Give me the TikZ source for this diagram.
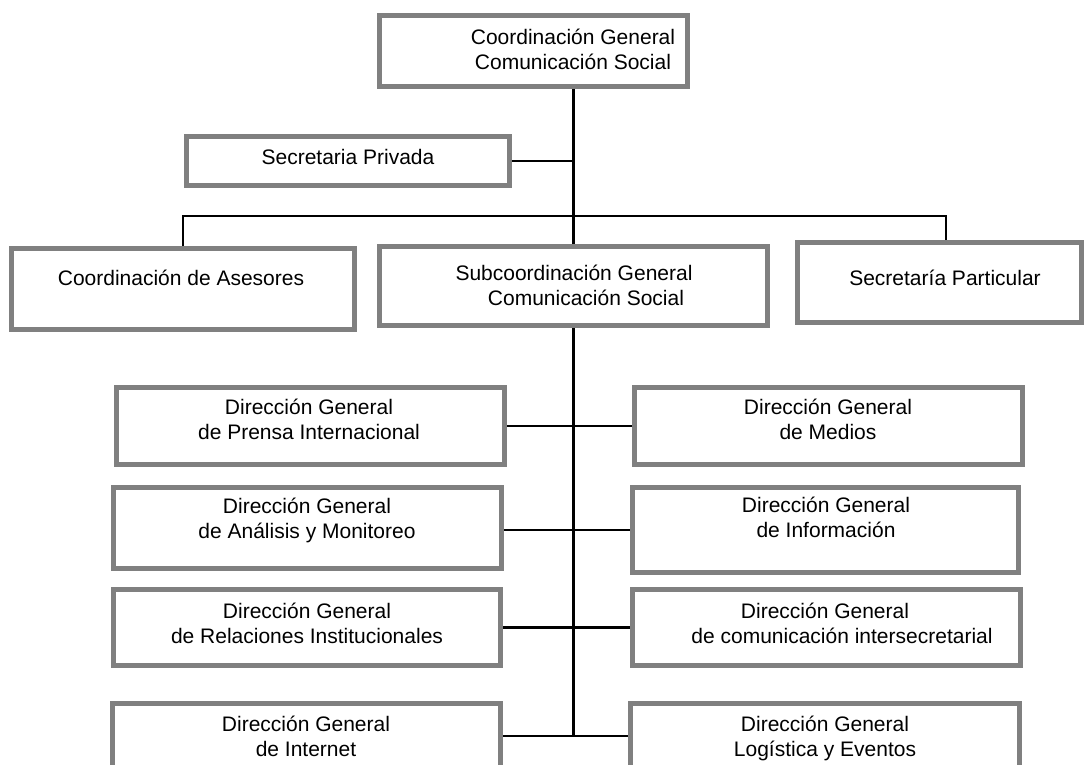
\documentclass[tikz,border=0pt]{standalone}
\usepackage{fontspec}
\setmainfont{Liberation Sans}
\begin{document}
\begin{tikzpicture}[x=1pt,y=-1pt,
  box/.style={draw=boxgray, line width=5pt, fill=white, inner sep=0pt, rectangle},
  lbl/.style={font=\fontsize{21}{25}\selectfont, align=center, inner sep=0pt},
  conn/.style={draw=black, line width=2.5pt}]
\definecolor{boxgray}{RGB}{128,128,128}
\useasboundingbox (0,0) rectangle (1084,765);
\clip (0,0) rectangle (1084,765);

% boxes (outer edges of the grey frame measured in px)
\node[box, minimum width=308pt, minimum height=71pt] (top)   at (533.5,51)  {};
\node[box, minimum width=323pt, minimum height=49pt] (priv)  at (348,161)   {};
\node[box, minimum width=343pt, minimum height=81pt] (ase)   at (183,289)   {};
\node[box, minimum width=388pt, minimum height=79pt] (sub)   at (573.5,286) {};
\node[box, minimum width=284pt, minimum height=80pt] (part)  at (939.5,282.5){};
\node[box, minimum width=388pt, minimum height=77pt] (prensa) at (310.5,426) {};
\node[box, minimum width=388pt, minimum height=77pt] (medios) at (828.5,426) {};
\node[box, minimum width=388pt, minimum height=81pt] (anal)   at (307.5,528) {};
\node[box, minimum width=386pt, minimum height=85pt] (info)   at (825.5,530) {};
\node[box, minimum width=387pt, minimum height=76pt] (rel)    at (307,627.5) {};
\node[box, minimum width=388pt, minimum height=76pt] (inter)  at (826.5,627.5){};
\node[box, minimum width=388pt, minimum height=94pt] (inet)   at (306.5,750.5){};
\node[box, minimum width=389pt, minimum height=94pt] (logi)   at (825,750.5) {};

% labels
\node[lbl] (top-t)    at (573,52)    {\strut Coordinación General\\\strut Comunicación Social};
\node[lbl] (priv-t)   at (348,159.5) {\strut Secretaria Privada};
\node[lbl] (ase-t)    at (181,280.5) {\strut Coordinación de Asesores};
\node[lbl] (sub-t)    at (574,288)   {\strut Subcoordinación General\\\hspace*{24pt}\strut Comunicación Social};
\node[lbl] (part-t)   at (945,280.5) {\strut Secretaría Particular};
\node[lbl] (prensa-t) at (309,422)    {\strut Dirección General\\\strut de Prensa Internacional};
\node[lbl] (medios-t) at (828,422)    {\strut Dirección General\\\strut de Medios};
\node[lbl] (anal-t)   at (307,521)    {\strut Dirección General\\\strut de Análisis y Monitoreo};
\node[lbl] (info-t)   at (826,520)    {\strut Dirección General\\\strut de Información};
\node[lbl] (rel-t)    at (307,626)    {\strut Dirección General\\\strut de Relaciones Institucionales};
\node[lbl] (inter-t)  at (825,626)    {\strut Dirección General\\\hspace*{34pt}\strut de comunicación intersecretarial};
\node[lbl] (inet-t)   at (306,739)    {\strut Dirección General\\\strut de Internet};
\node[lbl] (logi-t)   at (825,739)    {\strut Dirección General\\\strut Logística y Eventos};

% junction points of the connector tree
\coordinate (busL) at (183,216);
\coordinate (busR) at (946,216);
\coordinate (j4)   at (573.5,736);

% connectors
\draw[conn] (top.south -| sub.north) -- (sub.north);
\draw[conn] (priv.east) -- (priv.east -| sub.north);
\draw[conn] (ase.north) -- (busL) -- (busR) -- (busR |- part.north);
\draw[conn] (sub.south) -- (j4);
\draw[conn] (prensa.east) -- (prensa.east -| medios.west);
\draw[conn] (anal.east |- 0,530) -- (info.west |- 0,530);
\draw[conn] (rel.east) -- (rel.east -| inter.west);
\draw[conn] (inet.east |- j4) -- (logi.west |- j4);
\end{tikzpicture}
\end{document}
